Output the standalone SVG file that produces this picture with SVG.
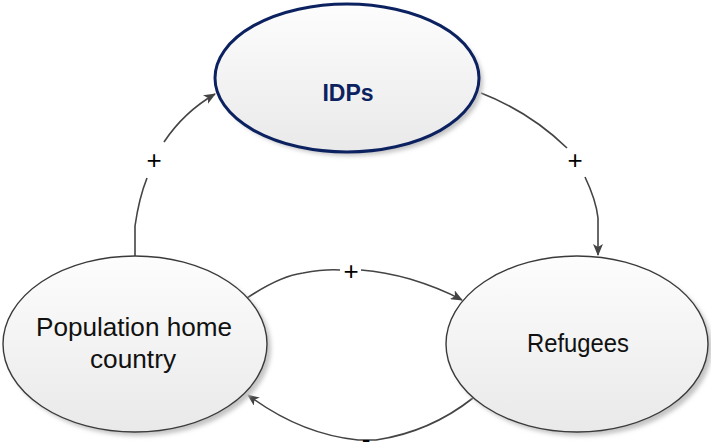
<svg xmlns="http://www.w3.org/2000/svg" width="711" height="444" viewBox="0 0 711 444">
<style>
.node{stroke:#3a3a3a;stroke-width:1.4;fill:url(#g)}
.shadow{fill:#c4c4c4;filter:url(#blur)}
.lbl{font-family:"Liberation Sans",Arial,sans-serif;fill:#111;text-anchor:middle}
.conn{fill:none;stroke:#444;stroke-width:1.6}
.sign{font-family:"Liberation Sans",Arial,sans-serif;font-size:26px;fill:#000;text-anchor:middle}
</style>
<defs>
<linearGradient id="g" x1="0" y1="0" x2="0" y2="1">
<stop offset="0" stop-color="#fdfdfd"/>
<stop offset="1" stop-color="#e9e9e9"/>
</linearGradient>
<filter id="blur" x="-10%" y="-10%" width="120%" height="120%"><feGaussianBlur stdDeviation="2"/></filter>
<marker id="arr" markerWidth="12" markerHeight="10" refX="11" refY="5" orient="auto" markerUnits="userSpaceOnUse">
<path d="M0,0 L12,5 L0,10 L3,5 Z" fill="#444"/>
</marker>
</defs>
<rect width="711" height="444" fill="#fff"/>
<g id="connectors">
<path class="conn" d="M135,257 L135,226 Q139,198 147,178"/>
<path class="conn" d="M164,142 Q184,112 215,94" marker-end="url(#arr)"/>
<path class="conn" d="M481,93 Q530,112 567,148"/>
<path class="conn" d="M585,177 Q596,200 598,218 L598,255" marker-end="url(#arr)"/>
<path class="conn" d="M247,298 Q280,276 303,273 Q325,269 340,270"/>
<path class="conn" d="M361,270 Q385,272 410,279 Q440,288 462,300" marker-end="url(#arr)"/>
<path class="conn" d="M473,398 Q430,432 376,440 L358,440 Q300,434 248,395" marker-end="url(#arr)"/>
<text class="sign" x="154" y="169">+</text>
<text class="sign" x="575" y="169">+</text>
<text class="sign" x="351" y="280">+</text>
<text class="sign" x="366" y="448">-</text>
</g>
<g id="idps">
<ellipse class="shadow" cx="351" cy="82" rx="132" ry="74"/>
<ellipse cx="347" cy="78" rx="132" ry="74" fill="url(#g)" stroke="#0c2260" stroke-width="3"/>
<text class="lbl" x="348" y="101" font-size="23" font-weight="bold" style="fill:#0c2260">IDPs</text>
</g>
<g id="population">
<ellipse class="shadow" cx="139" cy="348" rx="132" ry="88"/>
<ellipse class="node" cx="135" cy="344" rx="132" ry="88"/>
<text class="lbl" x="134" y="336" font-size="25" textLength="196" lengthAdjust="spacingAndGlyphs">Population home</text>
<text class="lbl" x="133" y="368" font-size="25" textLength="86" lengthAdjust="spacingAndGlyphs">country</text>
</g>
<g id="refugees">
<ellipse class="shadow" cx="581" cy="348" rx="131" ry="88"/>
<ellipse class="node" cx="577" cy="344" rx="131" ry="88"/>
<text class="lbl" x="578" y="352" font-size="25" textLength="102" lengthAdjust="spacingAndGlyphs">Refugees</text>
</g>
</svg>
